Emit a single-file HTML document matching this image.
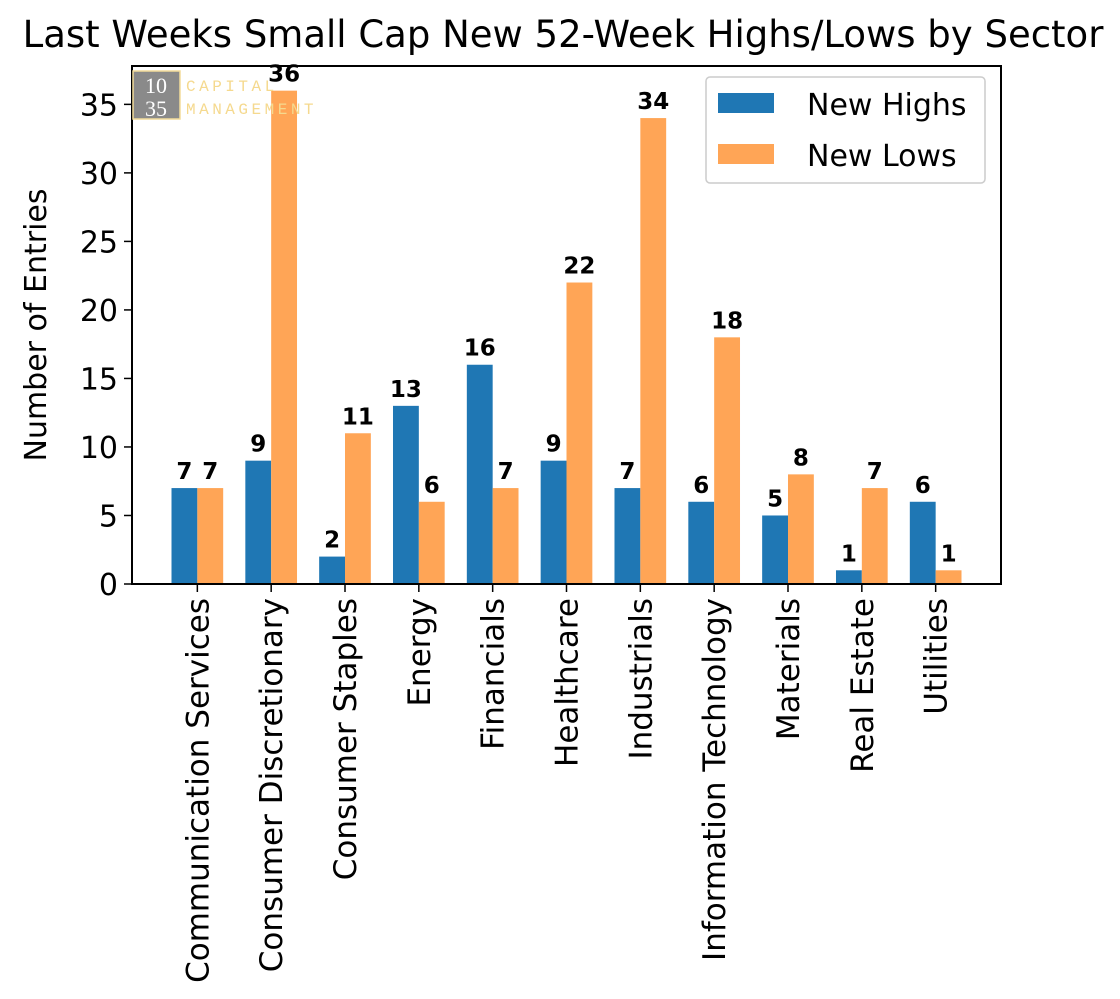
<!DOCTYPE html>
<html><head><meta charset="utf-8"><style>
body{margin:0;background:#fff;}
svg text{font-family:"DejaVu Sans","Liberation Sans",sans-serif;}
</style></head><body>
<svg id="chart" width="1120" height="994" xmlns="http://www.w3.org/2000/svg">
<text x="563" y="47" font-size="37" text-anchor="middle">Last Weeks Small Cap New 52-Week Highs/Lows by Sector</text>
<g id="bars"></g>
<g id="axes"></g>
<g>
<rect x="133" y="71" width="47" height="48" fill="#8a8a8a" stroke="#f3dc9a" stroke-width="1.5"/>
<text x="156" y="93" font-size="22" fill="#fff" text-anchor="middle" style="font-family:'Liberation Serif',serif">10</text>
<text x="156" y="116" font-size="22" fill="#fff" text-anchor="middle" style="font-family:'Liberation Serif',serif">35</text>
<text x="186" y="91" font-size="16" fill="#f5d98e" letter-spacing="3.5" style="font-family:'Liberation Mono',monospace">CAPITAL</text>
<text x="186" y="114" font-size="16" fill="#f5d98e" letter-spacing="3.5" style="font-family:'Liberation Mono',monospace">MANAGEMENT</text>
</g>
<g>
<rect x="706" y="77" width="279" height="106" fill="#fff" stroke="#ccc" stroke-width="1.5" rx="4"/>
<rect x="718" y="93" width="56" height="20" fill="#1f77b4"/>
<text x="807" y="115" font-size="30">New Highs</text>
<rect x="718" y="144" width="56" height="20" fill="#ffa556"/>
<text x="807" y="166" font-size="30">New Lows</text>
</g>
</svg>
<script>
const categories=["Communication Services","Consumer Discretionary","Consumer Staples","Energy","Financials","Healthcare","Industrials","Information Technology","Materials","Real Estate","Utilities"];
const highs=[7,9,2,13,16,9,7,6,5,1,6];
const lows=[7,36,11,6,7,22,34,18,8,7,1];
const yTicks=[0,5,10,15,20,25,30,35];
const NS="http://www.w3.org/2000/svg";
const L=132,R=1001,T=66,B=584;
const xmin=-0.885,xmax=10.885,ymax=37.8;
const xs=v=>L+(v-xmin)/(xmax-xmin)*(R-L);
const ys=v=>B-v/ymax*(B-T);
const bw=0.35;
function el(t,a,p){const e=document.createElementNS(NS,t);for(const k in a)e.setAttribute(k,a[k]);p.appendChild(e);return e;}
const bars=document.getElementById('bars'),axes=document.getElementById('axes');
const series=[[highs,'#1f77b4',-bw/2,'high'],[lows,'#ffa556',bw/2,'low']];
categories.forEach((c,i)=>{
 series.forEach(([vals,col,off,nm])=>{
  const x0=xs(i+off-bw/2),x1=xs(i+off+bw/2);
  const r=el('rect',{x:x0,y:ys(vals[i]),width:x1-x0,height:B-ys(vals[i]),fill:col},bars);
  
  
  const t=el('text',{x:(x0+x1)/2,y:ys(vals[i])-9,'font-size':23,'font-weight':'bold','text-anchor':'middle'},bars);
  t.textContent=vals[i];
  
  
 });
 const xc=xs(i);
 el('line',{x1:xc,x2:xc,y1:B,y2:B+8,stroke:'#000','stroke-width':1.5},axes);
 const lt=el('text',{x:0,y:0,'font-size':31,'text-anchor':'end',transform:`translate(${xc+11},${B+14}) rotate(-90)`},axes);
 lt.textContent=c;
 
 
});
yTicks.forEach(v=>{
 const y=ys(v);
 el('line',{x1:L-8,x2:L,y1:y,y2:y,stroke:'#000','stroke-width':1.5},axes);
 const t=el('text',{x:L-14,y:y+11,'font-size':30,'text-anchor':'end'},axes);
 t.textContent=v;
 
 
});
const f=el('rect',{x:L,y:T,width:R-L,height:B-T,fill:'none',stroke:'#000','stroke-width':2},axes);


const yt=el('text',{x:0,y:0,'font-size':30,'text-anchor':'middle',transform:`translate(46,${(T+B)/2}) rotate(-90)`},axes);
yt.textContent='Number of Entries';


</script>
</body></html>
